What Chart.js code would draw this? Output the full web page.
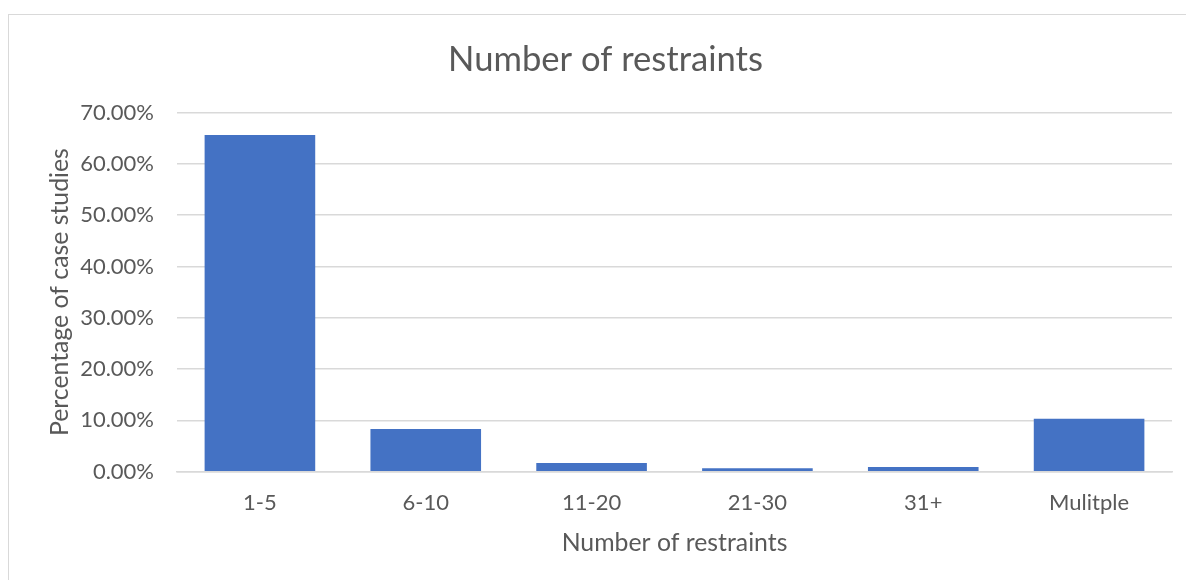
<!DOCTYPE html>
<html>
<head>
<meta charset="utf-8">
<script src="https://cdn.jsdelivr.net/npm/chart.js@4"></script>
<style>
  html, body { margin: 0; padding: 0; background: #fff; overflow: hidden; }
  #box {
    position: absolute; left: 8px; top: 14px;
    border-left: 1px solid #d9d9d9; border-top: 1px solid #d9d9d9;
  }
  canvas { display: block; }
</style>
</head>
<body>
<div id="box"><canvas id="chart" width="1193" height="565"></canvas></div>
<script>
// --- data ---
const categories = ['1-5', '6-10', '11-20', '21-30', '31+', 'Mulitple'];
const percentValues = [65.6, 8.3, 1.7, 0.66, 0.9, 10.3];
const yTicks = [0, 10, 20, 30, 40, 50, 60, 70];

const textColor = '#595959';
const gridColor = '#d9d9d9';
const fontFamily = 'Lato, "Open Sans", sans-serif';

const ctx = document.getElementById('chart').getContext('2d');

new Chart(ctx, {
    type: 'bar',
    data: {
        labels: categories,
        datasets: [{
            data: percentValues,
            backgroundColor: '#4472C4',
            borderWidth: 0,
            categoryPercentage: 1,
            barPercentage: 0.667
        }]
    },
    options: {
        responsive: false,
        animation: false,
        // equal side padding so the chart title centres on the whole box
        layout: { padding: { left: 30, right: 30, top: 0, bottom: 0 } },
        plugins: {
            legend: { display: false },
            tooltip: { enabled: false },
            title: {
                display: true,
                text: 'Number of restraints',
                color: textColor,
                font: { family: fontFamily, size: 34.6, weight: 'normal' },
                padding: { top: 24.5, bottom: 31.5 }
            }
        },
        scales: {
            x: {
                grid: { display: false, drawTicks: false },
                border: { display: true, color: gridColor, width: 1.5 },
                ticks: {
                    color: textColor,
                    font: { family: fontFamily, size: 22 },
                    padding: 18,
                    maxRotation: 0
                },
                title: {
                    display: true,
                    text: 'Number of restraints',
                    color: textColor,
                    font: { family: fontFamily, size: 24.8 },
                    padding: { top: 22, bottom: 22 }
                },
                afterFit: (axis) => { axis.height = 108.3; }
            },
            y: {
                min: 0,
                max: 70,
                afterBuildTicks: (axis) => { axis.ticks = yTicks.map(v => ({ value: v })); },
                grid: { color: gridColor, lineWidth: 1.5, drawTicks: false },
                border: { display: false },
                ticks: {
                    color: textColor,
                    font: { family: fontFamily, size: 22 },
                    padding: 23,
                    callback: (v) => v.toFixed(2) + '%'
                },
                title: {
                    display: true,
                    text: 'Percentage of case studies',
                    color: textColor,
                    font: { family: fontFamily, size: 24.8 },
                    padding: { top: 5.7, bottom: 5.7 }
                },
                afterFit: (axis) => { axis.width = 138; }
            }
        }
    }
});
</script>
</body>
</html>
